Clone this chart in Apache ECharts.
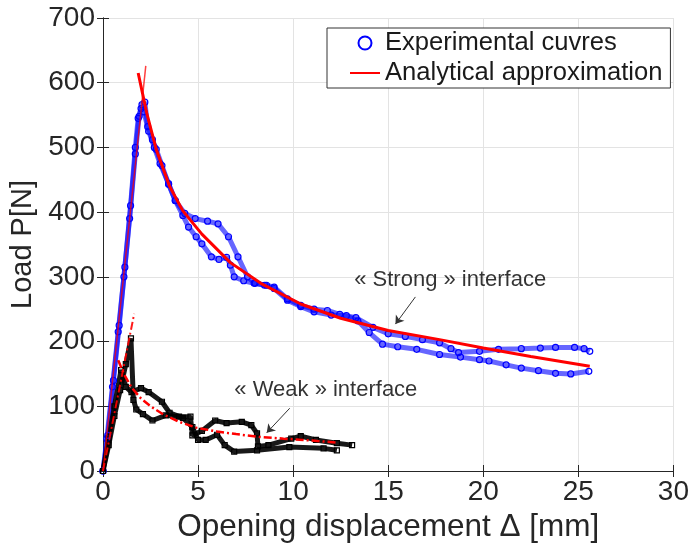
<!DOCTYPE html>
<html>
<head>
<meta charset="utf-8">
<script src="https://cdn.jsdelivr.net/npm/echarts@6/dist/echarts.min.js"></script>
<style>
  html, body { margin: 0; padding: 0; background: #fff; }
  #chart { width: 692px; height: 551px; }
</style>
</head>
<body>
<div id="chart"></div>
<script>
  // opening displacement [mm], load [N]
  const strongA = [
    [0, 0], [0.2, 50], [0.5, 130], [0.8, 215], [1.1, 300], [1.4, 390], [1.7, 490], [1.9, 548],
    [2.05, 566], [2.2, 570], [2.35, 532], [2.6, 512], [2.8, 497], [3.1, 472], [3.45, 443],
    [3.8, 418], [4.3, 398], [4.85, 390], [5.5, 386], [6.05, 382], [6.6, 362], [7.1, 331],
    [7.6, 300], [8.0, 290], [8.6, 287], [9.0, 284], [9.7, 266], [10.4, 256], [11.1, 250],
    [11.8, 248], [12.45, 242], [13.3, 237], [14.2, 222], [15.0, 212], [15.9, 208], [16.8, 203],
    [17.7, 198], [18.3, 189], [18.7, 183], [19.8, 185], [20.8, 188], [22.0, 189], [23.0, 190],
    [23.8, 191], [24.8, 191], [25.3, 189], [25.6, 185]
  ]
  const strongB = [
    [0, 0], [0.25, 55], [0.55, 140], [0.85, 225], [1.15, 315], [1.45, 410], [1.7, 500], [1.85, 545],
    [2.0, 560], [2.15, 555], [2.4, 525], [2.7, 500], [3.0, 475], [3.45, 444], [3.8, 418],
    [4.2, 395], [4.5, 377], [4.9, 362], [5.2, 351], [5.7, 331], [6.1, 327], [6.5, 330],
    [6.7, 318], [6.9, 300], [7.4, 294], [7.95, 290], [8.5, 287], [9.0, 282], [9.7, 264],
    [10.4, 254], [11.1, 246], [12.0, 241], [12.8, 240], [13.4, 232], [14.0, 214], [14.7, 196],
    [15.5, 192], [16.5, 188], [17.7, 180], [18.8, 176], [19.8, 172], [20.3, 170], [21.2, 164],
    [22.0, 159], [22.9, 155], [23.8, 151], [24.6, 150], [25.55, 154]
  ]
  const weakA = [
    [0, 0], [0.3, 40], [0.6, 85], [0.9, 125], [1.2, 165], [1.47, 205], [1.6, 110], [1.75, 95],
    [2.1, 88], [2.6, 78], [3.3, 86], [4.0, 84], [4.6, 84], [4.7, 55], [5.2, 62], [5.9, 78],
    [6.5, 74], [7.3, 76], [7.8, 71], [8.1, 58], [8.15, 38], [8.7, 40], [9.9, 50], [10.4, 54],
    [11.2, 48], [12.3, 43], [13.1, 40]
  ]
  const weakB = [
    [0, 0], [0.3, 50], [0.6, 100], [0.95, 156], [1.2, 130], [1.5, 122], [2.0, 128], [2.4, 122],
    [3.1, 107], [3.5, 90], [4.2, 82], [4.7, 68], [5.0, 48], [5.4, 48], [6.0, 56], [6.4, 40],
    [6.9, 30], [8.1, 32], [9.8, 37], [11.6, 35], [12.3, 32]
  ]
  const strongFitRise = [[0, 0], [2.25, 626]]
  const strongFitDecay = [
    [1.85, 615], [2.3, 553], [2.8, 497], [3.5, 440], [4.2, 402], [5.2, 366], [6.7, 322],
    [8.3, 290], [10.4, 258], [12.5, 236], [15, 217], [17.7, 203], [20, 190], [22.5, 177], [25.6, 162]
  ]
  const weakFitRise = [[0, 0], [1.64, 243]]
  const weakFitDecay = [
    [0.8, 171], [1.1, 150], [1.5, 129], [2.0, 112], [2.5, 100], [3.2, 87], [4.0, 76], [4.9, 67],
    [6.0, 61], [7.0, 57], [8.1, 53], [9.5, 50], [11, 47], [12.3, 44]
  ]
  const xTicks = [0, 5, 10, 15, 20, 25, 30]
  const yTicks = [0, 100, 200, 300, 400, 500, 600, 700]
  const notes = [
    {text: '« Strong » interface', at: [18.26, 295], from: [16.43, 269], to: [15.38, 227]},
    {text: '« Weak » interface', at: [11.72, 125], from: [9.82, 97], to: [8.61, 59]}
  ]

  const FONT = "'Liberation Sans', Arial, sans-serif"
  const chart = echarts.init(document.getElementById('chart'))

  function expSeries (name, data, color) {
    return {
      name: name,
      type: 'line',
      data: data,
      symbol: 'circle',
      symbolSize: 6,
      itemStyle: {color: 'rgba(255,255,255,0)', borderColor: color, borderWidth: 1.2},
      lineStyle: {color: color, width: 5, opacity: 0.6},
      z: 2
    }
  }
  function fitSeries (name, data, width, type, opacity) {
    return {
      name: name,
      type: 'line',
      data: data,
      symbol: 'none',
      itemStyle: {color: '#ff0000'},
      lineStyle: {color: '#ff0000', width: width, type: type, opacity: opacity},
      z: 4
    }
  }

  let option = {
    animation: false,
    textStyle: {fontFamily: FONT},
    grid: {left: 100, right: 14, top: 18, bottom: 80},
    legend: {
      orient: 'vertical',
      left: 327,
      top: 28,
      padding: [1, 8, 1, 22],
      itemGap: 2,
      itemWidth: 30,
      itemHeight: 13,
      backgroundColor: '#fff',
      borderColor: '#333',
      borderWidth: 1,
      borderRadius: 0,
      textStyle: {fontSize: 25.6, color: '#1a1a1a', fontFamily: FONT, lineHeight: 28},
      data: [
        {name: 'Experimental cuvres', icon: 'circle',
          itemStyle: {color: '#fff', borderColor: '#0000ff', borderWidth: 2}},
        {name: 'Analytical approximation', itemStyle: {opacity: 0},
          lineStyle: {color: '#ff0000', width: 2, opacity: 1}}
      ]
    },
    xAxis: [
      {
        type: 'value', min: xTicks[0], max: xTicks[xTicks.length - 1], interval: 5,
        name: 'Opening displacement Δ [mm]', nameLocation: 'middle', nameGap: 35,
        nameTextStyle: {fontSize: 31.5, color: '#262626'},
        axisLine: {show: true, onZero: false, lineStyle: {color: '#262626'}},
        axisTick: {show: true, inside: true, length: 6, lineStyle: {color: '#262626'}},
        axisLabel: {fontSize: 28, color: '#262626', margin: 7},
        splitLine: {show: true, lineStyle: {color: '#e3e3e3'}}
      },
      {
        type: 'value', position: 'top', min: xTicks[0], max: xTicks[xTicks.length - 1], interval: 5,
        axisLine: {show: true, lineStyle: {color: '#262626'}},
        axisTick: {show: true, inside: true, length: 6, lineStyle: {color: '#262626'}},
        axisLabel: {show: false},
        splitLine: {show: false}
      }
    ],
    yAxis: [
      {
        type: 'value', min: yTicks[0], max: yTicks[yTicks.length - 1], interval: 100,
        name: 'Load P[N]', nameLocation: 'middle', nameGap: 66,
        nameTextStyle: {fontSize: 29, color: '#262626'},
        axisLine: {show: true, onZero: false, lineStyle: {color: '#262626'}},
        axisTick: {show: true, inside: true, length: 6, lineStyle: {color: '#262626'}},
        axisLabel: {fontSize: 28, color: '#262626', margin: 8},
        splitLine: {show: true, lineStyle: {color: '#e3e3e3'}}
      },
      {
        type: 'value', position: 'right', min: yTicks[0], max: yTicks[yTicks.length - 1], interval: 100,
        axisLine: {show: true, lineStyle: {color: '#262626'}},
        axisTick: {show: true, inside: true, length: 6, lineStyle: {color: '#262626'}},
        axisLabel: {show: false},
        splitLine: {show: false}
      }
    ],
    series: [
      expSeries('Experimental cuvres', strongA, '#0000ff'),
      expSeries('Experimental cuvres', strongB, '#0000ff'),
      Object.assign(expSeries('Weak experimental', weakA, '#000'),
        {symbol: 'rect', symbolSize: 5, lineStyle: {color: '#000', width: 5, opacity: 0.9}}),
      Object.assign(expSeries('Weak experimental', weakB, '#000'),
        {symbol: 'rect', symbolSize: 5, lineStyle: {color: '#000', width: 5, opacity: 0.9}}),
      fitSeries('Analytical approximation', strongFitDecay, 3, 'solid', 1),
      fitSeries('Analytical approximation', strongFitRise, 1.5, 'solid', 0.75),
      fitSeries('Weak approximation', weakFitRise, 2, [8, 3, 2, 3], 0.9),
      fitSeries('Weak approximation', weakFitDecay, 2.5, [8, 3, 2, 3], 1),
      {
        name: 'notes',
        type: 'scatter',
        symbol: 'circle',
        symbolSize: 2,
        itemStyle: {color: 'rgba(255,255,255,0)'},
        silent: true,
        data: notes.map(n => ({value: n.at, name: n.text})),
        label: {show: true, position: 'inside', formatter: '{b}', fontSize: 22, color: '#000', fontFamily: FONT},
        labelLayout: {hideOverlap: false},
        markLine: {
          silent: true,
          symbol: ['none', 'arrow'],
          symbolSize: 8,
          label: {show: false},
          lineStyle: {color: '#333', width: 1, type: 'solid'},
          data: notes.map(n => [{coord: n.from}, {coord: n.to}])
        },
        z: 5
      }
    ]
  }
  chart.setOption(option)
</script>
</body>
</html>
